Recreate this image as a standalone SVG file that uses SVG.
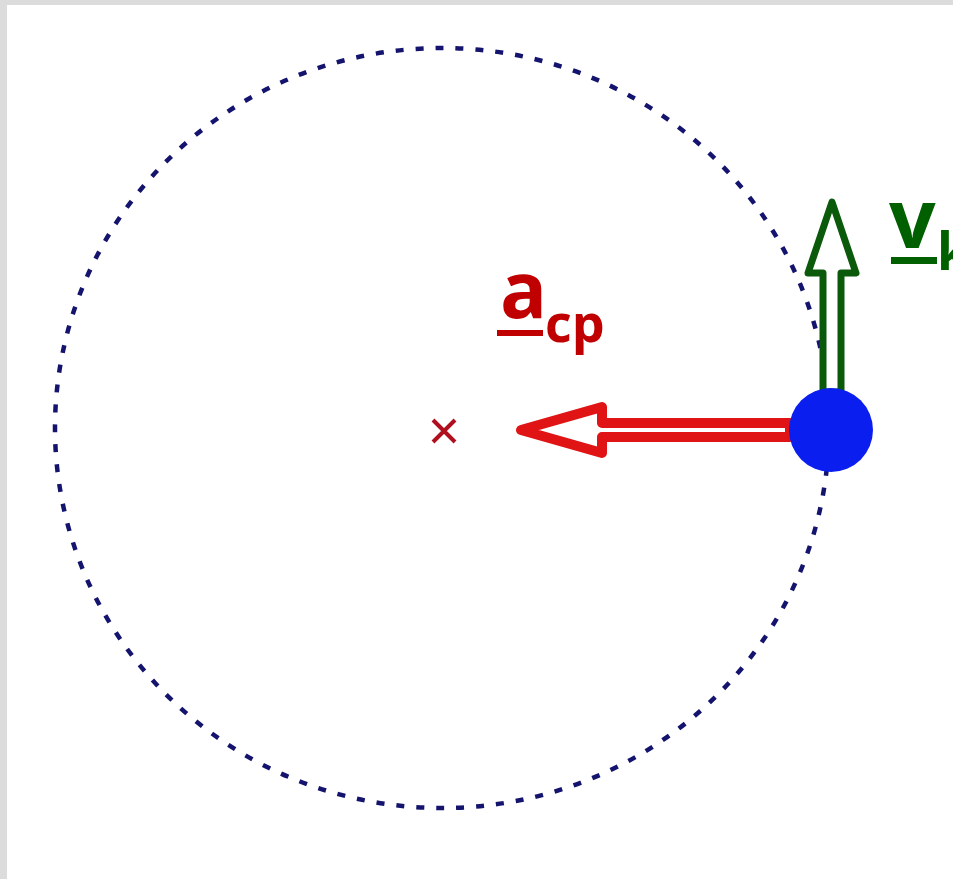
<svg xmlns="http://www.w3.org/2000/svg" width="953" height="879" viewBox="0 0 953 879">
  <style>
    .lbl { font-family: "Open Sans", "Liberation Sans", sans-serif; font-weight: bold; }
    .red { fill: #c00000; }
    .green { fill: #006000; }
  </style>
  <rect x="0" y="0" width="953" height="879" fill="#ffffff"/>
  <rect x="0" y="0" width="953" height="5" fill="#dcdcdc"/>
  <rect x="0" y="0" width="7" height="879" fill="#dcdcdc"/>

  <g id="orbit">
    <ellipse cx="442" cy="428" rx="387" ry="380" fill="none" stroke="#14146e" stroke-width="4.5" stroke-dasharray="8 12"/>
  </g>

  <g id="center">
    <path d="M433,420 L455,442 M455,420 L433,442" stroke="#b0101e" stroke-width="4" fill="none"/>
  </g>

  <g id="connectors">
    <path id="acp-arrow" d="M521,430 L602,407 L602,423 L790,423 L790,437 L602,437 L602,453 Z" fill="#ffffff" stroke="#e01414" stroke-width="10" stroke-linejoin="round"/>
    <path id="vk-arrow" d="M832,202 L856,273 L841,273 L841,392 L823,392 L823,273 L808,273 Z" fill="#ffffff" stroke="#0b5a0b" stroke-width="7" stroke-linejoin="round"/>
  </g>

  <g id="ball">
    <circle cx="831" cy="430" r="42" fill="#0a1ef0"/>
  </g>

  <g id="label-acp">
    <text class="lbl red" x="500" y="318" font-size="78">a</text>
    <rect class="red" x="497" y="330" width="46" height="6"/>
    <text class="lbl red" x="545" y="342" font-size="52">cp</text>
  </g>

  <g id="label-vk">
    <text class="lbl green" x="889" y="248" font-size="82">v</text>
    <rect class="green" x="891" y="257" width="46" height="7"/>
    <text class="lbl green" x="937" y="270" font-size="52">k</text>
  </g>
</svg>
